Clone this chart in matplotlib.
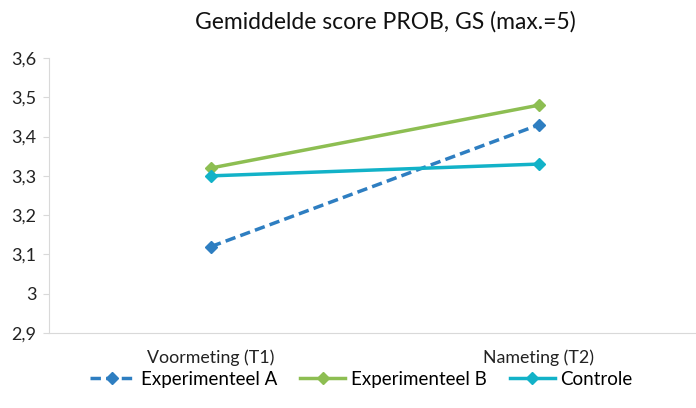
import matplotlib
matplotlib.use("Agg")
import matplotlib.pyplot as plt
from matplotlib.ticker import FuncFormatter

plt.rcParams['font.family'] = ['Lato', 'DejaVu Sans']

categories = ["Voormeting (T1)", "Nameting (T2)"]
series_names = ["Experimenteel A", "Experimenteel B", "Controle"]
exp_a = [3.12, 3.43]
exp_b = [3.32, 3.48]
controle = [3.30, 3.33]

colours = ['#2E7EC1', '#8DBE52', '#12B2C8']
styles = ['--', '-', '-']

fig = plt.figure(figsize=(6.96, 4.08), dpi=100)
ax = fig.add_axes([49 / 696, 75 / 408, 646 / 696, 275 / 408])

x = list(range(len(categories)))
for values, name, colour, ls in zip([exp_a, exp_b, controle], series_names, colours, styles):
    ax.plot(x, values, label=name, color=colour, linestyle=ls, linewidth=2.5,
            marker='D', markersize=6.5, dashes=(3, 1.5) if ls == '--' else (None, None))

ax.set_xlim(-0.494, 1.476)
ax.set_ylim(2.9, 3.6)
ax.set_yticks([2.9, 3.0, 3.1, 3.2, 3.3, 3.4, 3.5, 3.6])
ax.yaxis.set_major_formatter(FuncFormatter(lambda v, p: ('%g' % round(v, 1)).replace('.', ',')))
ax.set_xticks(x)
ax.set_xticklabels(categories)
ax.tick_params(axis='x', length=0, pad=12, labelsize=12.8, colors='#222222')
ax.tick_params(axis='y', length=4, color='#d9d9d9', pad=5, labelsize=13, colors='#222222')

for side in ['top', 'right']:
    ax.spines[side].set_visible(False)
for side in ['left', 'bottom']:
    ax.spines[side].set_color('#d9d9d9')

fig.text(0.553, 0.946, "Gemiddelde score PROB, GS (max.=5)", ha='center', va='center', fontsize=16.5, color='#111111')

fig.legend(loc='center', bbox_to_anchor=(0.519, 0.07), ncol=3, frameon=False,
           fontsize=13.5, handlelength=2.4, columnspacing=1.23, handletextpad=0.3)

fig.savefig("out.png", dpi=100)
